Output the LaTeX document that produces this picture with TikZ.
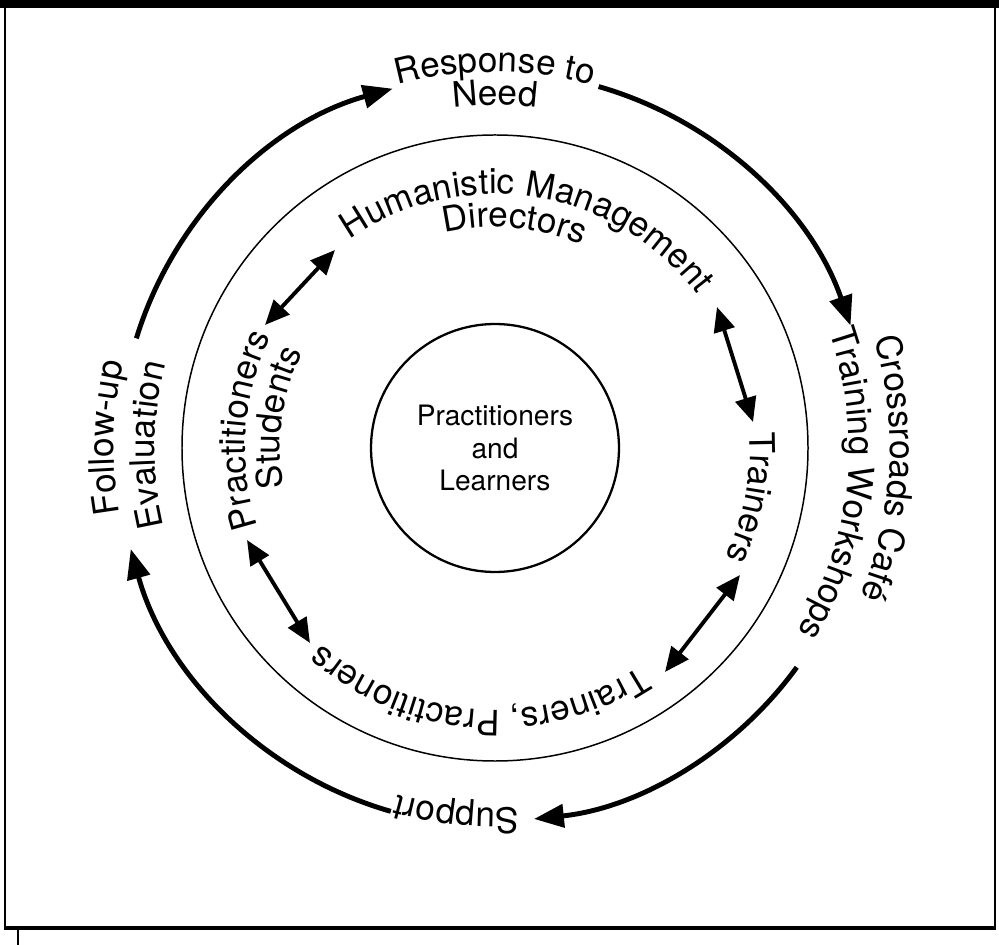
\documentclass[tikz,border=0pt]{standalone}
\usepackage{fontspec}
\setmainfont{TeX Gyre Heros}
\usetikzlibrary{arrows.meta,decorations.text}
\newcommand{\ringfont}{\fontsize{20}{24}\selectfont}
% text bent round the centre, read clockwise: radius, middle angle, text
\newcommand{\bentlabel}[3]{%
  \path[decorate,decoration={text along path,text align=center,text={|\ringfont|#3}}]
    ({#2+70}:#1) arc[start angle={#2+70},end angle={#2-70},radius=#1];}

\begin{document}
\begin{tikzpicture}[x=0.02cm,y=0.02cm,>={Triangle[length=14pt,width=12pt]},
  flow/.style={line width=2.8pt,->,>={Triangle[length=17pt,width=13pt]}},
  duo/.style={line width=2.2pt,<->}]
  \useasboundingbox (-495,-497) rectangle (504,448);
  % frame
  \fill (-495,440) rectangle (504,448);
  \draw[line width=1.4pt] (-490,440) -- (-490,-480);
  \draw[line width=1.4pt] (500,440) -- (500,-480);
  \draw[line width=2pt] (-491,-480) -- (501,-480);
  \draw[line width=0.6pt] (-477,-480) -- (-477,-497);
  % centre
  \node[draw,circle,line width=1.3pt,minimum size=4.96cm,align=center,
    font=\fontsize{16}{18.5}\selectfont] (core) at (0,0) {Practitioners\\and\\Learners};
  % ring
  \draw[line width=0.85pt] (0,0) circle (313);
  \bentlabel{254}{81}{Humanistic Management}
  \bentlabel{221}{85}{Directors}
  \bentlabel{255}{-11}{Trainers}
  \bentlabel{262}{-94}{Trainers, Practitioners}
  \bentlabel{250}{176}{Practitioners}
  \bentlabel{215}{172}{Students}
  % two-way arrows in the ring
  \coordinate (a1) at (-230,123); \coordinate (b1) at (-160,198);
  \coordinate (a2) at (222,141);  \coordinate (b2) at (258,26);
  \coordinate (a3) at (245,-127); \coordinate (b3) at (170,-224);
  \coordinate (a4) at (-248,-92); \coordinate (b4) at (-185,-195);
  \draw[duo] (a1) -- (b1);
  \draw[duo] (a2) -- (b2);
  \draw[duo] (a3) -- (b3);
  \draw[duo] (a4) -- (b4);
  % outer cycle
  \bentlabel{376}{90}{Response to}
  \bentlabel{343}{90}{Need}
  \bentlabel{395}{-3}{Crossroads Café}
  \bentlabel{354}{-6}{Training Workshops}
  \bentlabel{360}{-96}{Support}
  \bentlabel{381}{178.5}{Follow-up}
  \bentlabel{340}{179.5}{Evaluation}
  \coordinate (c1) at (163:375);
  \coordinate (c2) at (74:376);
  \coordinate (c3) at (-36:373);
  \coordinate (c4) at (254:378);
  \draw[flow] (c1) arc[start angle=163,end angle=105.5,radius=372];
  \draw[flow] (c2) arc[start angle=74,end angle=19,radius=376];
  \draw[flow] (c3) arc[start angle=-36,end angle=-84,radius=373];
  \draw[flow] (c4) arc[start angle=254,end angle=195.5,radius=378];
\end{tikzpicture}
\end{document}
